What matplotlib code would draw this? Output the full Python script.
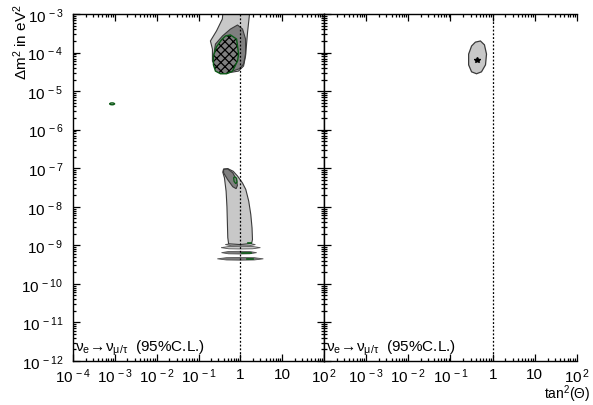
import numpy as np
import matplotlib
matplotlib.use('Agg')
import matplotlib.pyplot as plt
from matplotlib.ticker import LogLocator, NullFormatter, FixedLocator

plt.rcParams['font.family'] = ['Liberation Sans', 'DejaVu Sans']
plt.rcParams['mathtext.fontset'] = 'custom'
plt.rcParams['mathtext.rm'] = 'Liberation Sans'
plt.rcParams['mathtext.it'] = 'Liberation Sans:italic'
plt.rcParams['hatch.linewidth'] = 0.9

# allowed regions, outlines given as (log10 tan^2, log10 dm^2)
lma_90_x = [-0.40, -0.43, -0.57, -0.715, -0.667, -0.667, -0.547, -0.307, -0.043, 0.077, 0.125, 0.173, 0.22, 0.245]
lma_90_y = [-2.74, -3.13, -3.44, -3.70, -3.91, -4.22, -4.45, -4.53, -4.48, -4.35, -4.09, -3.47, -3.0, -2.74]

lma_68_x = [-0.067, 0.053, 0.125, 0.125, 0.077, -0.02, -0.235, -0.43, -0.595, -0.643, -0.595, -0.427, -0.235]
lma_68_y = [-3.285, -3.39, -3.65, -4.04, -4.30, -4.42, -4.50, -4.50, -4.37, -4.11, -3.78, -3.57, -3.39]

lma_95_x = [-0.235, -0.09, -0.067, -0.043, -0.067, -0.187, -0.33, -0.475, -0.595, -0.643, -0.643, -0.57, -0.45, -0.355]
lma_95_y = [-3.544, -3.65, -3.83, -4.04, -4.22, -4.48, -4.55, -4.55, -4.48, -4.32, -4.09, -3.85, -3.67, -3.57]

low_90_x = [-0.40, -0.30, -0.17, -0.07, 0.05, 0.13, 0.20, 0.25, 0.28, 0.29, 0.27, 0.0, -0.28, -0.30, -0.31, -0.32, -0.34, -0.38, -0.42]
low_90_y = [-7.02, -7.01, -7.08, -7.20, -7.38, -7.55, -7.85, -8.20, -8.55, -8.85, -8.95, -8.98, -8.96, -8.80, -8.40, -8.00, -7.60, -7.25, -7.10]

low_68_x = [-0.40, -0.30, -0.18, -0.09, -0.07, -0.10, -0.18, -0.30, -0.40]
low_68_y = [-7.03, -7.02, -7.12, -7.30, -7.45, -7.53, -7.48, -7.30, -7.12]

low_95_x = [-0.14, -0.09, -0.08, -0.11, -0.15, -0.16]
low_95_y = [-7.22, -7.26, -7.36, -7.40, -7.34, -7.25]

# thin bands at the bottom of LOW: centre (log x), half-width (log x), centre (log y)
band_xc = [0.0, 0.01, -0.03, 0.0]
band_hw = [0.36, 0.47, 0.42, 0.55]
band_yc = [-8.98, -9.06, -9.19, -9.35]
band_fill = ['#c8c8c8', '#c8c8c8', '#7a7a7a', '#7a7a7a']

vac_x = [-3.13, -3.10, -3.065, -3.03, -3.0, -3.03, -3.065, -3.10, -3.13]
vac_y = [-5.33, -5.31, -5.305, -5.31, -5.33, -5.35, -5.355, -5.35, -5.33]

# global fit (right panel)
fit_x = [-0.29, -0.195, -0.146, -0.17, -0.265, -0.383, -0.50, -0.57, -0.57, -0.50, -0.41]
fit_y = [-3.70, -3.80, -4.04, -4.32, -4.50, -4.55, -4.50, -4.32, -4.04, -3.83, -3.73]
best_x = -0.383
best_y = -4.19

xt_left = [-4, -3, -2, -1, 0, 1, 2]
xt_right = [-3, -2, -1, 0, 1, 2]
yt = [-3, -4, -5, -6, -7, -8, -9, -10, -11, -12]

light = '#c8c8c8'
dark = '#7f7f7f'
green = '#0b5a16'
edge = '#3a3a3a'
fs = 11


def p(a):
    return 10.0 ** np.asarray(a)


def powlab(e):
    if e == 0:
        return '1'
    if e == 1:
        return '10'
    return r'$\mathregular{10^{\,%d}}$' % e


def style(ax, xt):
    ax.set_xscale('log')
    ax.set_yscale('log')
    ax.set_xlim(1e-4, 1e2)
    ax.set_ylim(1e-12, 1e-3)
    ax.xaxis.set_major_locator(FixedLocator(p(xt)))
    ax.set_xticklabels([powlab(e) for e in xt])
    ax.xaxis.set_minor_locator(LogLocator(base=10, subs=np.arange(2, 10), numticks=20))
    ax.xaxis.set_minor_formatter(NullFormatter())
    ax.yaxis.set_major_locator(FixedLocator(p(yt)))
    ax.yaxis.set_minor_locator(LogLocator(base=10, subs=np.arange(2, 10), numticks=20))
    ax.yaxis.set_minor_formatter(NullFormatter())
    ax.tick_params(which='both', direction='in', top=True, labelsize=fs, width=0.9)
    ax.tick_params(axis='x', pad=4)
    ax.tick_params(axis='y', pad=7)
    ax.tick_params(which='major', length=5)
    ax.tick_params(which='minor', length=2.5)
    for s in ax.spines.values():
        s.set_linewidth(1.0)
    ax.axvline(1.0, color='black', ls=(0, (1.5, 1.5)), lw=0.9, zorder=5)
    ax.text(0.008, 0.012, r'$\mathregular{\nu_e\!\rightarrow\!\nu_{\mu/\tau}}$  (95%C.L.)',
            transform=ax.transAxes, fontsize=fs, va='bottom', ha='left', zorder=6)


fig = plt.figure(figsize=(5.93, 4.06), dpi=100)
ax1 = fig.add_axes([73 / 593, 1 - 362 / 406, 251 / 593, 347 / 406])
ax2 = fig.add_axes([324 / 593, 1 - 362 / 406, 253 / 593, 347 / 406])

style(ax1, xt_left)
style(ax2, xt_right)

ax1.set_yticklabels([powlab(e) for e in yt])
ax1.tick_params(axis='y', which='both', right=True)
ax2.tick_params(axis='y', which='both', left=True, right=False, labelleft=False)
ax2.spines['right'].set_visible(False)

# LMA
ax1.fill(p(lma_90_x), p(lma_90_y), fc=light, ec=edge, lw=0.8, zorder=2)
ax1.fill(p(lma_68_x), p(lma_68_y), fc=dark, ec=edge, lw=0.8, zorder=3)
ax1.fill(p(lma_95_x), p(lma_95_y), fc=dark, ec='black', lw=0, hatch='xxxx', zorder=4)
ax1.fill(p(lma_95_x), p(lma_95_y), fc='none', ec=green, lw=1.0, zorder=4)

# LOW
for xc, hw, yc, fc in zip(band_xc, band_hw, band_yc, band_fill):
    bx = [xc - hw, xc - 0.6 * hw, xc, xc + 0.6 * hw, xc + hw, xc + 0.6 * hw, xc, xc - 0.6 * hw]
    by = [yc, yc + 0.03, yc + 0.035, yc + 0.03, yc, yc - 0.03, yc - 0.035, yc - 0.03]
    ax1.fill(p(bx), p(by), fc=fc, ec='#555555', lw=0.6, zorder=2)
ax1.fill(p(low_90_x), p(low_90_y), fc=light, ec=edge, lw=0.8, zorder=2)
ax1.fill(p(low_68_x), p(low_68_y), fc=dark, ec=edge, lw=0.8, zorder=3)
ax1.fill(p(low_95_x), p(low_95_y), fc=dark, ec=green, lw=0.9, zorder=4)
ax1.plot(p([0.05, 0.25]), p([-9.19, -9.19]), color=green, lw=1.2, zorder=4)
ax1.plot(p([0.15, 0.30]), p([-9.35, -9.35]), color=green, lw=1.2, zorder=4)
ax1.plot(p([0.18, 0.25]), p([-8.95, -8.95]), color=green, lw=1.2, zorder=4)

# vacuum island
ax1.fill(p(vac_x), p(vac_y), fc=light, ec=green, lw=1.0, zorder=3)

# combined fit
ax2.fill(p(fit_x), p(fit_y), fc=light, ec=edge, lw=0.9, zorder=2)
ax2.plot(p([best_x]), p([best_y]), marker='*', color='black', ms=4, zorder=4)

fig.text(21 / 593, 1 - 4 / 406, r'$\mathregular{\Delta m^2}$ in eV$\mathregular{^2}$',
         rotation=90, ha='center', va='top', fontsize=fs)
fig.text(567 / 593, 1 - 405 / 406, r'tan$\mathregular{^2}$($\mathregular{\Theta}$)',
         ha='center', va='bottom', fontsize=10)

fig.savefig('out.png', dpi=100)
